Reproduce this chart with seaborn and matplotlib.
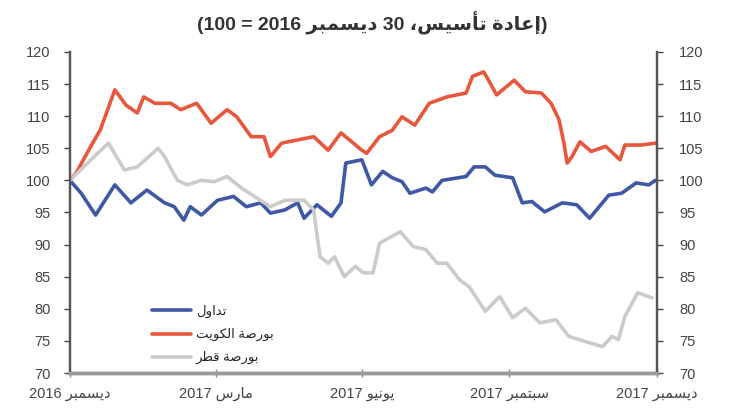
import re
import pandas as pd
import numpy as np
import matplotlib
matplotlib.use('Agg')
import matplotlib.pyplot as plt
import seaborn as sns

# Data (rebased, 30 Dec 2016 = 100)
tadawul_dates = ['2016-12-30', '2017-01-06', '2017-01-15', '2017-01-27', '2017-02-06', '2017-02-16',
                 '2017-02-27', '2017-03-05', '2017-03-11', '2017-03-15', '2017-03-22', '2017-04-01',
                 '2017-04-11', '2017-04-19', '2017-04-28', '2017-05-04', '2017-05-13', '2017-05-21',
                 '2017-05-25', '2017-06-02', '2017-06-11', '2017-06-17', '2017-06-20', '2017-06-30',
                 '2017-07-06', '2017-07-13', '2017-07-19', '2017-07-25', '2017-07-30', '2017-08-09',
                 '2017-08-13', '2017-08-19', '2017-09-03', '2017-09-08', '2017-09-15', '2017-09-21',
                 '2017-10-02', '2017-10-08', '2017-10-14', '2017-10-22', '2017-11-02', '2017-11-11',
                 '2017-11-19', '2017-11-25', '2017-12-01', '2017-12-09', '2017-12-18', '2017-12-26',
                 '2017-12-30']
tadawul_vals = [100, 98, 94.6, 99.3, 96.5, 98.5,
                96.5, 95.9, 93.8, 95.9, 94.6, 96.9,
                97.5, 95.9, 96.5, 94.9, 95.4, 96.5,
                94.1, 96.2, 94.4, 96.5, 102.7, 103.2,
                99.3, 101.4, 100.4, 99.8, 98.0, 98.8,
                98.2, 100.0, 100.6, 102.1, 102.1, 100.8,
                100.4, 96.5, 96.7, 95.1, 96.5, 96.2,
                94.1, 95.9, 97.7, 98.0, 99.6, 99.3,
                100.0]

kuwait_dates = ['2016-12-30', '2017-01-03', '2017-01-12', '2017-01-18', '2017-01-27', '2017-02-03',
                '2017-02-10', '2017-02-14', '2017-02-21', '2017-03-03', '2017-03-09', '2017-03-19',
                '2017-03-28', '2017-04-07', '2017-04-13', '2017-04-22', '2017-04-30', '2017-05-04',
                '2017-05-11', '2017-05-21', '2017-05-31', '2017-06-09', '2017-06-17', '2017-06-30',
                '2017-07-03', '2017-07-11', '2017-07-19', '2017-07-25', '2017-08-02', '2017-08-11',
                '2017-08-22', '2017-09-03', '2017-09-07', '2017-09-14', '2017-09-17', '2017-09-22',
                '2017-10-03', '2017-10-10', '2017-10-20', '2017-10-26', '2017-10-31', '2017-11-03',
                '2017-11-05', '2017-11-08', '2017-11-13', '2017-11-20', '2017-11-29', '2017-12-08',
                '2017-12-11', '2017-12-21', '2017-12-30']
kuwait_vals = [100, 101.2, 105.3, 107.9, 114.1, 111.7,
               110.5, 113.0, 112.0, 112.0, 111.0, 112.0,
               108.9, 111.0, 109.9, 106.8, 106.8, 103.7,
               105.8, 106.3, 106.8, 104.7, 107.4, 104.7,
               104.2, 106.8, 107.8, 109.9, 108.6, 112.0,
               113.0, 113.6, 116.2, 116.9, 115.6, 113.3,
               115.6, 113.8, 113.6, 112.0, 109.4, 105.8,
               102.7, 103.7, 106.0, 104.5, 105.3, 103.2,
               105.5, 105.5, 105.8]

qatar_dates = ['2016-12-30', '2017-01-12', '2017-01-23', '2017-02-02', '2017-02-10', '2017-02-23',
               '2017-02-27', '2017-03-07', '2017-03-13', '2017-03-22', '2017-03-30', '2017-04-07',
               '2017-04-16', '2017-04-24', '2017-05-04', '2017-05-13', '2017-05-25', '2017-05-31',
               '2017-06-01', '2017-06-04', '2017-06-09', '2017-06-13', '2017-06-19', '2017-06-26',
               '2017-07-01', '2017-07-07', '2017-07-11', '2017-07-24', '2017-08-01', '2017-08-09',
               '2017-08-16', '2017-08-22', '2017-08-30', '2017-09-05', '2017-09-15', '2017-09-24',
               '2017-10-02', '2017-10-10', '2017-10-19', '2017-10-29', '2017-11-06', '2017-11-19',
               '2017-11-27', '2017-12-03', '2017-12-07', '2017-12-11', '2017-12-19', '2017-12-28']
qatar_vals = [100, 103.2, 105.8, 101.6, 102.1, 105.0,
              103.7, 100.0, 99.3, 100.0, 99.8, 100.6,
              98.8, 97.5, 95.9, 96.9, 96.9, 95.4,
              93.4, 88.1, 87.1, 88.1, 85.0, 86.6,
              85.6, 85.6, 90.2, 92.0, 89.7, 89.2,
              87.1, 87.1, 84.5, 83.4, 79.6, 81.9,
              78.6, 80.1, 77.8, 78.3, 75.7, 74.7,
              74.1, 75.7, 75.2, 78.8, 82.5, 81.7]

series_names = ['تداول', 'بورصة الكويت', 'بورصة قطر']
series_colors = ['#3f58a6', '#e8573c', '#cbcbcb']
title_text = '(إعادة تأسيس، 30 ديسمبر 2016 = 100)'
tick_dates = ['2016-12-30', '2017-03-31', '2017-06-30', '2017-09-30', '2017-12-31']
tick_labels = ['ديسمبر 2016', 'مارس 2017', 'يونيو 2017', 'سبتمبر 2017', 'ديسمبر 2017']
y_ticks = list(range(70, 121, 5))

# matplotlib has no Arabic shaping: map letters to presentation forms and
# reorder for display
AR_FORMS = {
    'ا': (0xFE8D, 2), 'أ': (0xFE83, 2), 'إ': (0xFE87, 2), 'ب': (0xFE8F, 4),
    'ة': (0xFE93, 2), 'ت': (0xFE95, 4), 'د': (0xFEA9, 2), 'ر': (0xFEAD, 2),
    'س': (0xFEB1, 4), 'ص': (0xFEB9, 4), 'ط': (0xFEC1, 4), 'ع': (0xFEC9, 4),
    'ق': (0xFED5, 4), 'ك': (0xFED9, 4), 'ل': (0xFEDD, 4), 'م': (0xFEE1, 4),
    'ن': (0xFEE5, 4), 'و': (0xFEED, 2), 'ي': (0xFEF1, 4),
}


def ar(text):
    out = []
    for i, ch in enumerate(text):
        if ch not in AR_FORMS:
            out.append(ch)
            continue
        base, n = AR_FORMS[ch]
        prev = text[i - 1] if i > 0 else ''
        nxt = text[i + 1] if i + 1 < len(text) else ''
        joins_prev = prev in AR_FORMS and AR_FORMS[prev][1] == 4
        joins_next = n == 4 and nxt in AR_FORMS
        if joins_prev and joins_next:
            off = 3
        elif joins_prev:
            off = 1
        elif joins_next:
            off = 2
        else:
            off = 0
        out.append(chr(base + off))
    s = ''.join(out)[::-1]
    s = re.sub(r'\d+', lambda m: m.group(0)[::-1], s)
    return s.translate(str.maketrans('()', ')('))


sns.set_theme(style='white')
plt.rcParams['font.family'] = ['Liberation Sans', 'DejaVu Sans']

frames = []
for name, d, v in zip(series_names, [tadawul_dates, kuwait_dates, qatar_dates],
                      [tadawul_vals, kuwait_vals, qatar_vals]):
    frames.append(pd.DataFrame({'date': pd.to_datetime(d), 'value': v, 'series': ar(name)}))
df = pd.concat(frames, ignore_index=True)

fig = plt.figure(figsize=(7.44, 4.09), dpi=100)
ax = fig.add_axes([0.094, 0.088, 0.789, 0.785])

palette = {ar(n): c for n, c in zip(series_names, series_colors)}
sns.lineplot(data=df, x='date', y='value', hue='series', palette=palette,
             hue_order=[ar(n) for n in series_names], linewidth=2.6, ax=ax)

ax.set_xlim(pd.Timestamp('2016-12-30'), pd.Timestamp('2017-12-31'))
ax.set_ylim(70, 120)
ax.set_yticks(y_ticks)
ax.set_xticks(pd.to_datetime(tick_dates))
ax.set_xticklabels([ar(t) for t in tick_labels], fontsize=10.5, color='#444444')
ax.set_xlabel('')
ax.set_ylabel('')
ax.tick_params(axis='y', labelsize=10.5, colors='#444444', length=4, width=1,
               direction='out', left=True, pad=10)
ax.tick_params(axis='x', length=6, width=1, direction='inout', bottom=True, pad=7, color='#888888')

ax2 = ax.twinx()
ax2.set_ylim(70, 120)
ax2.set_yticks(y_ticks)
ax2.tick_params(axis='y', labelsize=10.5, colors='#444444', length=4, width=1,
                direction='out', right=True, pad=12)

for a in (ax, ax2):
    a.spines['top'].set_visible(False)
    a.spines['left'].set_color('#555555')
    a.spines['right'].set_color('#555555')
    a.spines['left'].set_linewidth(1.6)
    a.spines['right'].set_linewidth(1.6)
    a.spines['bottom'].set_color('#9a9a9a')
    a.spines['bottom'].set_linewidth(2.5)
    a.grid(False)
for lab in ax.get_yticklabels() + ax2.get_yticklabels():
    lab.set_color('#444444')

leg = ax.legend(loc='lower left', bbox_to_anchor=(0.12, -0.01), frameon=False,
                fontsize=9.5, handlelength=2.9, labelspacing=0.75, handletextpad=0.4)
for line in leg.get_lines():
    line.set_linewidth(2.6)

fig.text(0.5, 0.945, ar(title_text), ha='center', va='center', fontsize=14,
         fontweight='bold', color='#333333')

fig.savefig('out.png', dpi=100)
